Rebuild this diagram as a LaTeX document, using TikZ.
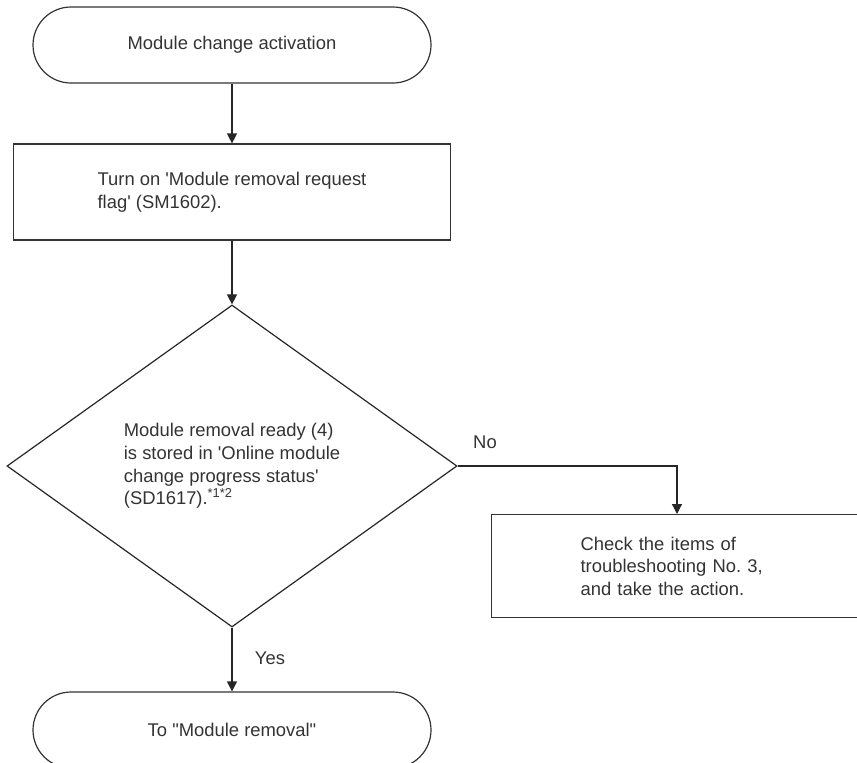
\documentclass[tikz,border=0pt]{standalone}
\usepackage{fontspec}
\newfontfamily\lsans{Liberation Sans}
\usetikzlibrary{shapes.geometric,arrows.meta}

\begin{document}
\begin{tikzpicture}[x=0.5pt,y=-0.5pt,semithick,
    every node/.style={font=\lsans\fontsize{9.2pt}{11.3pt}\selectfont,text=black!80},
    terminal/.style={draw=black!80,rounded corners=19pt,minimum width=199pt,minimum height=38pt},
    process/.style={draw=black!80,align=left},
    decision/.style={diamond,draw=black!85,align=left,inner sep=0pt,aspect=1.4,
      minimum width=225pt,minimum height=161pt},
    flow/.style={draw=black!85,-{Triangle[width=5pt,length=5pt]}}]

  \useasboundingbox (0,0) rectangle (857,762);
  \clip (0,0) rectangle (857,762);

  \node[terminal] (n1) at (232,45) {Module change activation};
  \node[process,minimum width=218.5pt,minimum height=48pt] (n2) at (232,192)
    {Turn on 'Module removal request\\flag' (SM1602).};
  \node[decision] (n3) at (232,466)
    {Module removal ready (4)\\is stored in 'Online module\\change progress status'\\(SD1617).\textsuperscript{*1*2}};
  \node[process,anchor=north west,text width=100pt,inner xsep=44.5pt,minimum height=51.5pt] (n4) at (491,514)
    {Check the items of\\troubleshooting No.\ 3,\\and take the action.};
  \node[terminal] (n5) at (232,730) {To "Module removal"};

  \coordinate (c1) at (677,514);

  \path[flow] (n1) -- (n2);
  \path[flow] (n2) -- (n3);
  \path[flow] (n3.east) -| (c1);
  \path[flow] (n3) -- (n5);

  \node (no) at (485,442) {No};
  \node (yes) at (270,658) {Yes};

\end{tikzpicture}
\end{document}
